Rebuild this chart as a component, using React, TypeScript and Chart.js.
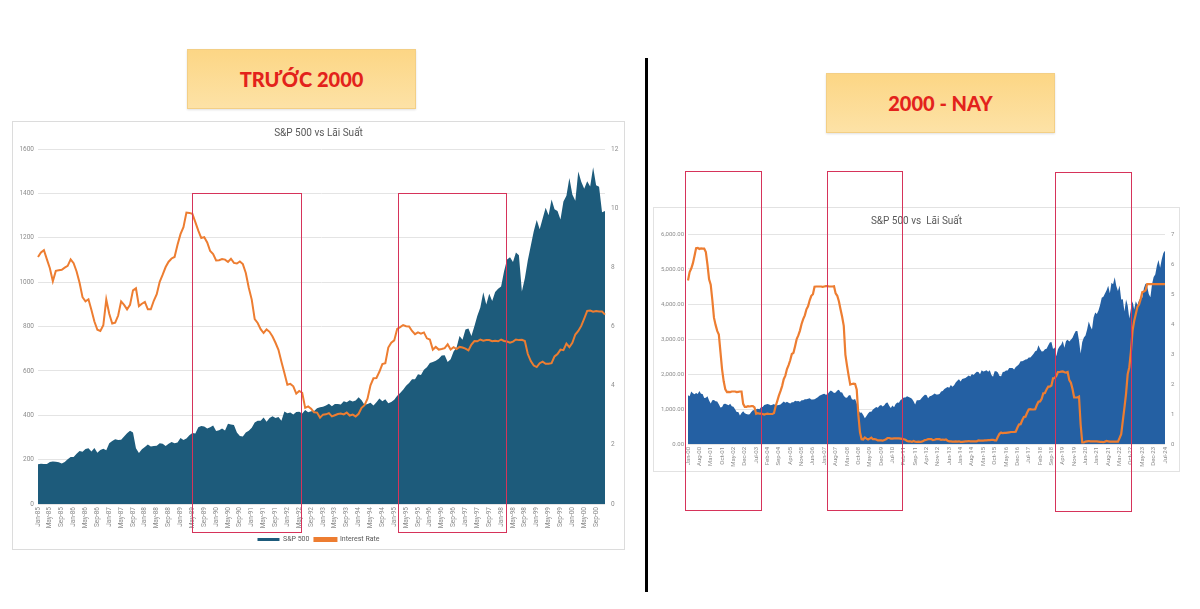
import React, { useEffect, useRef } from 'react';
import { Chart, registerables } from 'chart.js';

Chart.register(...registerables);
Chart.defaults.font.family = 'Roboto, "Open Sans", sans-serif';

// ---------- categories ----------
const MONTH_NAMES = ['Jan', 'Feb', 'Mar', 'Apr', 'May', 'Jun', 'Jul', 'Aug', 'Sep', 'Oct', 'Nov', 'Dec'];
function monthLabels(startYear: number, count: number): string[] {
  const out: string[] = [];
  for (let i = 0; i < count; i++) {
    const y = startYear + Math.floor(i / 12);
    out.push(MONTH_NAMES[i % 12] + '-' + String(y % 100).padStart(2, '0'));
  }
  return out;
}

// ---------- left chart (1985 - 2000) ----------
const spxBefore2000 = [
  179.6, 181.2, 180.7, 179.8, 189.6, 191.9, 190.9, 188.6, 182.1, 189.8, 202.2, 211.3,
  211.8, 226.9, 238.9, 235.5, 247.4, 250.8, 236.1, 252.9, 231.3, 243.9, 249.2, 242.2,
  274.1, 284.2, 291.7, 288.4, 290.1, 304.0, 318.7, 329.8, 321.8, 251.8, 230.3, 247.1,
  257.1, 267.8, 258.9, 261.3, 262.2, 273.5, 272.0, 261.5, 271.9, 279.0, 273.7, 277.7,
  297.5, 288.9, 294.9, 309.6, 320.5, 318.0, 346.1, 351.5, 349.2, 340.4, 346.0, 353.4,
  329.1, 331.9, 339.9, 330.8, 361.2, 358.0, 356.2, 322.6, 306.1, 304.0, 322.2, 330.2,
  343.9, 367.1, 375.2, 375.3, 389.8, 371.2, 387.8, 395.4, 387.9, 392.5, 375.2, 417.1,
  408.8, 412.7, 403.7, 415.0, 415.4, 408.1, 424.2, 414.0, 417.8, 418.7, 431.4, 435.7,
  438.8, 443.4, 451.7, 440.2, 450.2, 450.5, 448.1, 463.6, 458.9, 467.8, 461.8, 466.5,
  481.6, 467.1, 445.8, 450.9, 456.5, 444.3, 458.3, 475.5, 462.7, 472.4, 453.7, 459.3,
  470.4, 487.4, 500.7, 514.7, 533.4, 544.8, 562.1, 561.9, 584.4, 581.5, 605.4, 615.9,
  636.0, 640.4, 645.5, 654.2, 669.1, 670.6, 640.0, 652.0, 687.3, 705.3, 757.0, 740.7,
  786.2, 790.8, 757.1, 801.3, 848.3, 885.1, 954.3, 899.5, 947.3, 914.6, 955.4, 970.4,
  980.3, 1049.3, 1101.8, 1111.8, 1090.8, 1133.8, 1120.7, 957.3, 1017.0, 1098.7, 1163.6, 1229.2,
  1279.6, 1238.3, 1286.4, 1335.2, 1301.8, 1372.7, 1328.7, 1320.4, 1282.7, 1362.9, 1388.9, 1469.3,
  1394.5, 1366.4, 1498.6, 1452.4, 1420.6, 1454.6, 1430.8, 1517.7, 1436.5, 1429.4, 1315.0, 1320.3,
];
const rateBefore2000 = [
  8.35, 8.50, 8.58, 8.27, 7.97, 7.53, 7.88, 7.90, 7.92, 7.99, 8.05, 8.27,
  8.14, 7.86, 7.48, 6.99, 6.85, 6.92, 6.56, 6.17, 5.89, 5.85, 6.04, 6.91,
  6.43, 6.10, 6.13, 6.37, 6.85, 6.73, 6.58, 6.73, 7.22, 7.29, 6.69, 6.77,
  6.83, 6.58, 6.58, 6.87, 7.09, 7.51, 7.75, 8.01, 8.19, 8.30, 8.35, 8.76,
  9.12, 9.36, 9.85, 9.84, 9.81, 9.53, 9.24, 8.99, 9.02, 8.84, 8.55, 8.45,
  8.23, 8.24, 8.28, 8.26, 8.18, 8.29, 8.15, 8.13, 8.20, 8.11, 7.81, 7.31,
  6.91, 6.25, 6.12, 5.91, 5.78, 5.90, 5.82, 5.66, 5.45, 5.21, 4.81, 4.43,
  4.03, 4.06, 3.98, 3.73, 3.82, 3.76, 3.25, 3.30, 3.22, 3.10, 3.09, 2.92,
  3.02, 3.03, 3.07, 2.96, 3.00, 3.04, 3.06, 3.03, 3.09, 2.99, 3.02, 2.96,
  3.05, 3.25, 3.34, 3.56, 4.01, 4.25, 4.26, 4.47, 4.73, 4.76, 5.29, 5.45,
  5.53, 5.92, 5.98, 6.05, 6.01, 6.00, 5.85, 5.74, 5.80, 5.76, 5.80, 5.60,
  5.56, 5.22, 5.31, 5.22, 5.24, 5.27, 5.40, 5.22, 5.30, 5.24, 5.31, 5.29,
  5.25, 5.19, 5.39, 5.51, 5.50, 5.56, 5.52, 5.54, 5.54, 5.50, 5.52, 5.50,
  5.56, 5.51, 5.49, 5.45, 5.49, 5.56, 5.54, 5.55, 5.51, 5.07, 4.83, 4.68,
  4.63, 4.76, 4.81, 4.74, 4.74, 4.76, 4.99, 5.07, 5.22, 5.20, 5.42, 5.30,
  5.45, 5.73, 5.85, 6.02, 6.27, 6.53, 6.54, 6.50, 6.52, 6.51, 6.51, 6.40,
];
const labelsBefore2000 = monthLabels(1985, spxBefore2000.length);

// ---------- right chart (2000 - now) ----------
const spxSince2000 = [
  1394.5, 1366.4, 1498.6, 1452.4, 1420.6, 1454.6, 1430.8, 1517.7, 1436.5, 1429.4, 1315.0, 1320.3,
  1366.0, 1239.9, 1160.3, 1249.5, 1255.8, 1224.4, 1211.2, 1133.6, 1040.9, 1059.8, 1139.5, 1148.1,
  1130.2, 1106.7, 1147.4, 1076.9, 1067.1, 989.8, 911.6, 916.1, 815.3, 885.8, 936.3, 879.8,
  855.7, 841.2, 848.2, 916.9, 963.6, 974.5, 990.3, 1008.0, 996.0, 1050.7, 1058.2, 1111.9,
  1131.1, 1144.9, 1126.2, 1107.3, 1120.7, 1140.8, 1101.7, 1104.2, 1114.6, 1130.2, 1173.8, 1211.9,
  1181.3, 1203.6, 1180.6, 1156.9, 1191.5, 1191.3, 1234.2, 1220.3, 1228.8, 1207.0, 1249.5, 1248.3,
  1280.1, 1280.7, 1294.9, 1310.6, 1270.1, 1270.2, 1276.7, 1303.8, 1335.9, 1377.9, 1400.6, 1418.3,
  1438.2, 1406.8, 1420.9, 1482.4, 1530.6, 1503.4, 1455.3, 1474.0, 1526.8, 1549.4, 1481.1, 1468.4,
  1378.6, 1330.6, 1322.7, 1385.6, 1400.4, 1280.0, 1267.4, 1282.8, 1166.4, 968.8, 896.2, 903.3,
  825.9, 735.1, 797.9, 872.8, 919.1, 919.3, 987.5, 1020.6, 1057.1, 1036.2, 1095.6, 1115.1,
  1073.9, 1104.5, 1169.4, 1186.7, 1089.4, 1030.7, 1101.6, 1049.3, 1141.2, 1183.3, 1180.6, 1257.6,
  1286.1, 1327.2, 1325.8, 1363.6, 1345.2, 1320.6, 1292.3, 1218.9, 1131.4, 1253.3, 1247.0, 1257.6,
  1312.4, 1365.7, 1408.5, 1397.9, 1310.3, 1362.2, 1379.3, 1406.6, 1440.7, 1412.2, 1416.2, 1426.2,
  1498.1, 1514.7, 1569.2, 1597.6, 1630.7, 1606.3, 1685.7, 1633.0, 1681.6, 1756.5, 1805.8, 1848.4,
  1782.6, 1859.5, 1872.3, 1884.0, 1923.6, 1960.2, 1930.7, 2003.4, 1972.3, 2018.1, 2067.6, 2058.9,
  1995.0, 2104.5, 2067.9, 2085.5, 2107.4, 2063.1, 2103.8, 1972.2, 1920.0, 2079.4, 2080.4, 2043.9,
  1940.2, 1932.2, 2059.7, 2065.3, 2097.0, 2098.9, 2173.6, 2171.0, 2168.3, 2126.2, 2198.8, 2238.8,
  2278.9, 2363.6, 2362.7, 2384.2, 2411.8, 2423.4, 2470.3, 2471.7, 2519.4, 2575.3, 2647.6, 2673.6,
  2823.8, 2713.8, 2640.9, 2648.1, 2705.3, 2718.4, 2816.3, 2901.5, 2914.0, 2711.7, 2760.2, 2506.9,
  2704.1, 2784.5, 2834.4, 2945.8, 2752.1, 2941.8, 2980.4, 2926.5, 2976.7, 3037.6, 3141.0, 3230.8,
  3225.5, 2954.2, 2584.6, 2912.4, 3044.3, 3100.3, 3271.1, 3500.3, 3363.0, 3270.0, 3621.6, 3756.1,
  3714.2, 3811.2, 3972.9, 4181.2, 4204.1, 4297.5, 4395.3, 4522.7, 4307.5, 4605.4, 4567.0, 4766.2,
  4515.6, 4373.9, 4530.4, 4131.9, 4132.2, 3785.4, 4130.3, 3955.0, 3585.6, 3872.0, 4080.1, 3839.5,
  4076.6, 3970.2, 4109.3, 4169.5, 4179.8, 4450.4, 4589.0, 4507.7, 4288.1, 4193.8, 4567.8, 4769.8,
  4845.7, 5096.3, 5254.4, 5035.7, 5277.5, 5460.5, 5522.3,
];
const rateSince2000 = [
  5.45, 5.73, 5.85, 6.02, 6.27, 6.53, 6.54, 6.50, 6.52, 6.51, 6.51, 6.40,
  5.98, 5.49, 5.31, 4.80, 4.21, 3.97, 3.77, 3.65, 3.07, 2.49, 2.09, 1.82,
  1.73, 1.74, 1.73, 1.75, 1.75, 1.75, 1.73, 1.74, 1.75, 1.75, 1.34, 1.24,
  1.24, 1.26, 1.25, 1.26, 1.26, 1.22, 1.01, 1.03, 1.01, 1.01, 1.00, 0.98,
  1.00, 1.01, 1.00, 1.00, 1.00, 1.03, 1.26, 1.43, 1.61, 1.76, 1.93, 2.16,
  2.28, 2.50, 2.63, 2.79, 3.00, 3.04, 3.26, 3.50, 3.62, 3.78, 4.00, 4.16,
  4.29, 4.49, 4.59, 4.79, 4.94, 4.99, 5.24, 5.25, 5.25, 5.25, 5.25, 5.24,
  5.25, 5.26, 5.26, 5.25, 5.25, 5.25, 5.26, 5.02, 4.94, 4.76, 4.49, 4.24,
  3.94, 2.98, 2.61, 2.28, 1.98, 2.00, 2.01, 2.00, 1.81, 0.97, 0.39, 0.16,
  0.15, 0.22, 0.18, 0.15, 0.18, 0.21, 0.16, 0.16, 0.15, 0.12, 0.12, 0.12,
  0.11, 0.13, 0.16, 0.20, 0.20, 0.18, 0.18, 0.19, 0.19, 0.19, 0.19, 0.18,
  0.17, 0.16, 0.14, 0.10, 0.09, 0.09, 0.07, 0.10, 0.08, 0.07, 0.08, 0.07,
  0.08, 0.10, 0.13, 0.14, 0.16, 0.16, 0.16, 0.13, 0.14, 0.16, 0.16, 0.16,
  0.14, 0.15, 0.14, 0.15, 0.11, 0.09, 0.09, 0.08, 0.08, 0.09, 0.08, 0.09,
  0.07, 0.07, 0.08, 0.09, 0.09, 0.10, 0.09, 0.09, 0.09, 0.09, 0.09, 0.12,
  0.11, 0.11, 0.11, 0.12, 0.12, 0.13, 0.13, 0.14, 0.14, 0.12, 0.12, 0.24,
  0.34, 0.38, 0.36, 0.37, 0.37, 0.38, 0.39, 0.40, 0.40, 0.40, 0.41, 0.54,
  0.65, 0.66, 0.79, 0.90, 0.91, 1.04, 1.15, 1.16, 1.15, 1.15, 1.16, 1.30,
  1.41, 1.42, 1.51, 1.69, 1.70, 1.82, 1.91, 1.91, 1.95, 2.19, 2.20, 2.27,
  2.40, 2.40, 2.41, 2.42, 2.39, 2.38, 2.40, 2.13, 2.04, 1.83, 1.55, 1.55,
  1.55, 1.58, 0.65, 0.05, 0.05, 0.08, 0.09, 0.10, 0.09, 0.09, 0.09, 0.09,
  0.09, 0.08, 0.07, 0.07, 0.06, 0.08, 0.10, 0.09, 0.08, 0.08, 0.08, 0.08,
  0.08, 0.08, 0.20, 0.33, 0.77, 1.21, 1.68, 2.33, 2.56, 3.08, 3.78, 4.10,
  4.33, 4.57, 4.65, 4.83, 5.06, 5.08, 5.12, 5.33, 5.33, 5.33, 5.33, 5.33,
  5.33, 5.33, 5.33, 5.33, 5.33, 5.33, 5.33,
];
const labelsSince2000 = monthLabels(2000, spxSince2000.length);

const CHART_TITLE_LEFT = 'S&P 500 vs Lãi Suất';
const CHART_TITLE_RIGHT = 'S&P 500 vs  Lãi Suất';
const SERIES_NAMES = ['S&P 500', 'Interest Rate'];

const GRID = '#e4e4e4';
const TICK = '#8c8c8c';

function ChartCanvas({ config, width, height }: { config: any; width: number; height: number }) {
  const ref = useRef<HTMLCanvasElement | null>(null);
  useEffect(() => {
    const chart = new Chart(ref.current as HTMLCanvasElement, config);
    return () => chart.destroy();
  }, []);
  return <canvas ref={ref} width={width} height={height} style={{ position: 'absolute', left: 0, top: 0 }} />;
}

const leftConfig = {
  type: 'line',
  data: {
    labels: labelsBefore2000,
    datasets: [
      {
        label: SERIES_NAMES[1],
        data: rateBefore2000,
        yAxisID: 'y1',
        borderColor: '#ED7D31',
        backgroundColor: '#ED7D31',
        borderWidth: 2,
        pointRadius: 0,
        fill: false,
        tension: 0,
        order: 1,
      },
      {
        label: SERIES_NAMES[0],
        data: spxBefore2000,
        yAxisID: 'y',
        borderColor: '#1d5b7b',
        backgroundColor: '#1d5b7b',
        borderWidth: 0,
        pointRadius: 0,
        fill: 'origin',
        tension: 0,
        order: 2,
      },
    ],
  },
  options: {
    responsive: false,
    animation: false,
    layout: { padding: { left: 4, right: 4, top: 0, bottom: 8 } },
    plugins: {
      tooltip: { enabled: false },
      title: {
        display: true,
        text: CHART_TITLE_LEFT,
        color: '#595959',
        font: { size: 10, weight: 'normal' },
        padding: { top: 6, bottom: 10 },
      },
      legend: {
        position: 'bottom',
        reverse: true,
        labels: {
          color: '#595959',
          font: { size: 7 },
          boxWidth: 22,
          boxHeight: 3,
          padding: 5,
        },
      },
    },
    scales: {
      x: {
        grid: { display: false, drawTicks: false },
        border: { display: false },
        ticks: {
          autoSkip: false,
          maxRotation: 90,
          minRotation: 90,
          color: TICK,
          font: { size: 6.5 },
          padding: 3,
          callback: function (this: any, value: any, index: number) {
            return index % 4 === 0 ? this.getLabelForValue(value) : null;
          },
        },
        afterFit: (axis: any) => { axis.height = 27; },
      },
      y: {
        position: 'left',
        min: 0,
        max: 1600,
        ticks: { stepSize: 200, color: TICK, font: { size: 6.5 }, padding: 4, callback: (v: any) => String(v) },
        grid: { color: GRID, drawTicks: false },
        border: { display: false },
        afterFit: (axis: any) => { axis.width = 22; },
      },
      y1: {
        position: 'right',
        min: 0,
        max: 12,
        ticks: { stepSize: 2, color: TICK, font: { size: 6.5 }, padding: 6 },
        grid: { display: false, drawTicks: false },
        border: { display: false },
        afterFit: (axis: any) => { axis.width = 16; },
      },
    },
  },
};

const rightConfig = {
  type: 'line',
  data: {
    labels: labelsSince2000,
    datasets: [
      {
        label: SERIES_NAMES[1],
        data: rateSince2000,
        yAxisID: 'y1',
        borderColor: '#ED7D31',
        backgroundColor: '#ED7D31',
        borderWidth: 2.2,
        pointRadius: 0,
        fill: false,
        tension: 0,
        order: 1,
      },
      {
        label: SERIES_NAMES[0],
        data: spxSince2000,
        yAxisID: 'y',
        borderColor: '#2460a3',
        backgroundColor: '#2460a3',
        borderWidth: 0,
        pointRadius: 0,
        fill: 'origin',
        tension: 0,
        order: 2,
      },
    ],
  },
  options: {
    responsive: false,
    animation: false,
    layout: { padding: { left: 4, right: 4, top: 0, bottom: 4 } },
    plugins: {
      tooltip: { enabled: false },
      legend: { display: false },
      title: {
        display: true,
        text: CHART_TITLE_RIGHT,
        color: '#595959',
        font: { size: 10, weight: 'normal' },
        padding: { top: 8, bottom: 7 },
      },
    },
    scales: {
      x: {
        grid: { display: false, drawTicks: false },
        border: { display: false },
        ticks: {
          autoSkip: false,
          maxRotation: 90,
          minRotation: 90,
          color: TICK,
          font: { size: 6 },
          padding: 3,
          callback: function (this: any, value: any, index: number) {
            return index % 7 === 0 ? this.getLabelForValue(value) : null;
          },
        },
        afterFit: (axis: any) => { axis.height = 24; },
      },
      y: {
        position: 'left',
        min: 0,
        max: 6000,
        ticks: {
          stepSize: 1000,
          color: TICK,
          font: { size: 6 },
          padding: 4,
          callback: (v: any) => Number(v).toLocaleString('en-US', { minimumFractionDigits: 2, maximumFractionDigits: 2 }),
        },
        grid: { color: GRID, drawTicks: false },
        border: { display: false },
        afterFit: (axis: any) => { axis.width = 31; },
      },
      y1: {
        position: 'right',
        min: 0,
        max: 7,
        ticks: { stepSize: 1, color: TICK, font: { size: 6 }, padding: 6 },
        grid: { display: false, drawTicks: false },
        border: { display: false },
        afterFit: (axis: any) => { axis.width = 11; },
      },
    },
  },
};

const headerStyle: React.CSSProperties = {
  position: 'absolute',
  width: 229,
  height: 60,
  background: 'linear-gradient(#fcd685, #fde2a6)',
  border: '1px solid #f3cf86',
  boxSizing: 'border-box',
  display: 'flex',
  alignItems: 'center',
  justifyContent: 'center',
  color: '#e3221b',
  fontFamily: 'Lato, "Open Sans", sans-serif',
  fontWeight: 900,
  fontSize: 20,
  boxShadow: '0 1px 2px rgba(0,0,0,0.12)',
};

const redBox = (left: number, top: number, width: number, height: number): React.CSSProperties => ({
  position: 'absolute',
  left,
  top,
  width,
  height,
  border: '1.5px solid #d6335a',
  boxSizing: 'border-box',
  pointerEvents: 'none',
});

export default function App() {
  return (
    <div style={{ position: 'absolute', left: 0, top: 0, width: 1200, height: 609, background: '#fff', overflow: 'hidden' }}>
      <div style={{ ...headerStyle, left: 187, top: 49 }}>TRƯỚC 2000</div>
      <div style={{ ...headerStyle, left: 826, top: 73 }}>2000 - NAY</div>

      <div style={{ position: 'absolute', left: 12, top: 121, width: 613, height: 429 }}>
        <div style={{ position: 'absolute', inset: 0, border: '1px solid #dcdcdc' }} />
        <ChartCanvas config={leftConfig} width={613} height={440} />
      </div>

      <div style={{ position: 'absolute', left: 653, top: 207, width: 527, height: 265 }}>
        <div style={{ position: 'absolute', inset: 0, border: '1px solid #e2e2e2' }} />
        <ChartCanvas config={rightConfig} width={527} height={265} />
      </div>

      <div style={{ position: 'absolute', left: 645, top: 58, width: 3, height: 534, background: '#000' }} />

      <div style={redBox(192, 193, 110, 340)} />
      <div style={redBox(398, 193, 109, 340)} />
      <div style={redBox(685, 171, 77, 340)} />
      <div style={redBox(827, 171, 76, 340)} />
      <div style={redBox(1055, 172, 77, 340)} />
    </div>
  );
}
